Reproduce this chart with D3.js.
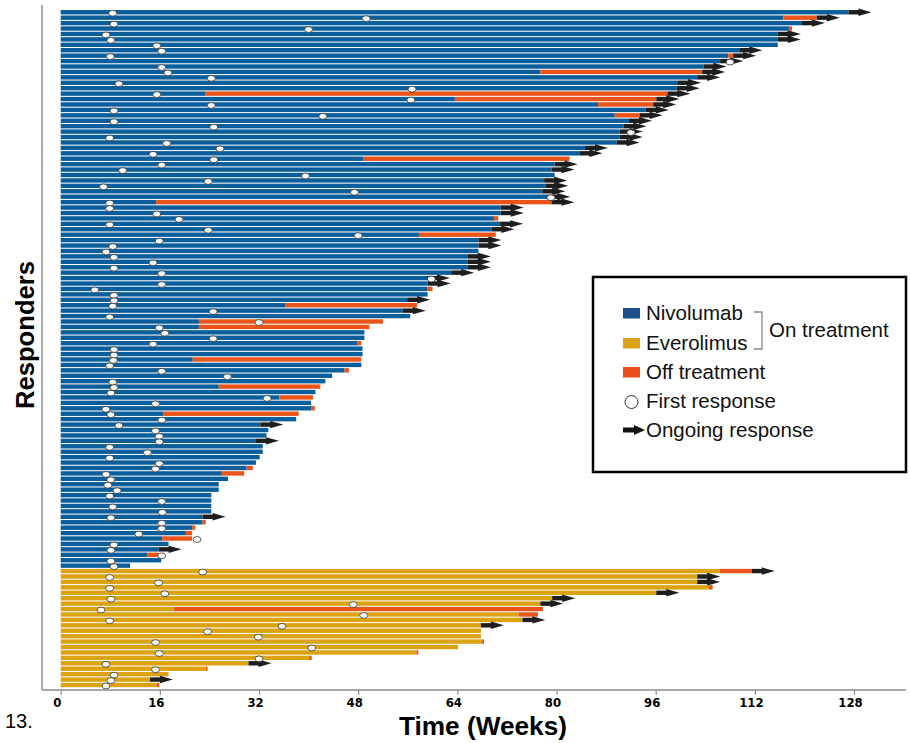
<!DOCTYPE html>
<html>
<head>
<meta charset="utf-8">
<script src="https://cdn.jsdelivr.net/npm/d3@7"></script>
<style>
  body { margin: 0; background: #fff; }
  svg { display: block; font-family: "Liberation Sans", Arial, sans-serif; }
</style>
</head>
<body>
<div id="chart"></div>
<script>
// Nivolumab responders (top to bottom), weeks
const nivoOnEnd = [127.1,116.6,119.6,117.5,115.7,115.7,115.7,109.5,107.7,106.4,
  103.7,77.4,102.7,99.6,99.4,23.3,63.6,86.7,94.4,89.4,
  91.7,90.8,90.2,90.2,89.7,84.6,83.7,48.8,79.7,79.2,
  79.7,78,78.2,77.7,78.5,15.4,71,71,69.9,70.9,
  69.5,57.8,67.4,67.4,67.4,65.7,65.7,65.7,63,59.1,
  59.2,59.2,59.2,55.9,36.3,55.2,56.4,22.3,22.3,49,
  49,47.9,48.7,48.7,21.3,48.5,45.8,43.8,42.7,25.5,
  41.1,35.3,40.4,40.4,16.6,38,32.2,33.5,33.2,31.5,
  32.6,32.6,32.1,31.5,30,26,27,25.5,25.5,24.3,
  24.3,24.3,24.3,22.9,22.9,21.2,20.2,16.4,17.4,15.8,
  14,16.2,11.2];
const nivoOffEnd = [0,122,0,118,0,0,0,0,108.5,0,
  0,103.5,0,0,0,97.9,96.1,95.6,0,93.4,
  0,0,0,0,0,0,0,82.1,0,0,
  0,0,0,0,0,79.2,0,0,70.6,0,
  0,70.2,0,0,0,0,0,0,0,0,
  0,60,0,0,57.5,0,0,52,49.8,0,
  0,48.5,0,0,48.5,0,46.5,0,0,41.9,
  0,40.7,0,41,38.4,0,0,0,0,0,
  0,0,0,0,31,29.6,0,0,0,0,
  0,0,0,0,23.4,21.7,21.2,21.2,0,0,
  15.8,0,0];
const nivoResp = [8.4,49.3,8.6,40,7.3,8.1,15.5,16.3,8.0,108,
  16.3,17.3,24.3,9.4,56.7,15.5,56.5,24.3,8.6,42.3,
  8.6,24.7,92,7.9,17.1,25.7,14.9,24.7,16.3,10,
  39.5,23.8,6.9,47.4,79.1,7.9,7.9,15.5,19.1,7.9,
  23.8,48,15.9,8.4,7.3,8.6,14.9,8.6,16.3,59.8,
  16.3,5.5,8.6,8.6,8.4,24.6,7.9,32,15.9,16.8,
  24.6,14.9,8.6,8.6,8.5,7.9,16.3,26.9,8.4,8.6,
  8.1,33.3,15.3,7.3,8.1,16.3,9.4,15.3,15.9,15.9,
  7.9,14,7.9,15.9,15.3,7.3,8.1,7.6,9.1,7.9,
  16.3,8.4,16.4,8.1,16.3,16.3,12.6,22,8.6,8.1,
  16.3,8.1,8.6];
const nivoOngoing = [1,1,1,0,1,1,0,1,1,1,
  1,1,1,1,1,1,1,1,1,1,
  1,1,1,1,1,1,1,0,1,1,
  0,1,1,1,1,1,1,1,0,1,
  1,0,1,1,0,1,1,1,1,1,
  1,0,0,1,0,1,0,0,0,0,
  0,0,0,0,0,0,0,0,0,0,
  0,0,0,0,0,0,1,0,0,1,
  0,0,0,0,0,0,0,0,0,0,
  0,0,0,1,0,0,0,0,0,1,
  0,0,0];

// Everolimus responders
const everoOnEnd = [106.3,102.7,102.7,104.6,96.1,79.3,77.4,18.3,73.9,74.5,
  67.8,67.8,67.8,68,64.1,57.4,40.1,30.3,23.4,17.4,14.4,15.5];
const everoOffEnd = [111.5,0,0,105.2,0,0,0,77.8,77,0,
  0,0,0,68.3,0,57.7,40.5,0,23.7,0,0,15.9];
const everoResp = [22.9,7.9,15.8,7.9,16.8,8.1,47.2,6.5,48.9,7.9,
  35.7,23.7,31.9,15.3,40.5,15.9,32,7.3,15.3,8.6,8.1,7.3];
const everoOngoing = [1,1,1,0,1,1,1,0,0,1,1,0,0,0,0,0,0,1,0,0,1,0];

const xTicks = [0,16,32,48,64,80,96,112,128];

const colors = { Nivolumab: "#0b5e9c", Everolimus: "#dba212", off: "#e9541b", arrow: "#1e1e1e" };
const legendColors = { Nivolumab: "#1f4e89", Everolimus: "#dca215", off: "#e8521a" };

const rows = [];
nivoOnEnd.forEach((d, i) => rows.push({ arm: "Nivolumab", on: d, off: nivoOffEnd[i], resp: nivoResp[i], ongoing: nivoOngoing[i] }));
everoOnEnd.forEach((d, i) => rows.push({ arm: "Everolimus", on: d, off: everoOffEnd[i], resp: everoResp[i], ongoing: everoOngoing[i] }));
rows.forEach((d, i) => d.idx = i);

const width = 910, height = 743;
const svg = d3.select("#chart").append("svg")
  .attr("width", width).attr("height", height);

const x = d3.scaleLinear().domain([0, 128]).range([60.7, 854]);
const y = d3.scaleLinear().domain([0, rows.length - 1]).range([12.25, 685]);
const barH = 4.4;

// axes lines
svg.append("line").attr("x1", 42).attr("x2", 42).attr("y1", 5).attr("y2", 690)
  .attr("stroke", "#8c8c8c").attr("stroke-width", 1.5);
svg.append("line").attr("x1", 42).attr("x2", 906).attr("y1", 690).attr("y2", 690)
  .attr("stroke", "#8c8c8c").attr("stroke-width", 1.5);

const xAxis = svg.append("g")
  .attr("transform", "translate(0,690)")
  .call(d3.axisBottom(x).tickValues(xTicks).tickSize(5).tickSizeOuter(0));
xAxis.select(".domain").remove();
xAxis.selectAll(".tick line").attr("stroke", "#8c8c8c").attr("stroke-width", 1.2);
xAxis.selectAll(".tick text")
  .attr("fill", "#000").attr("font-size", 13).attr("font-weight", "bold")
  .attr("dx", -4).attr("y", 8)
  .style("font-family", "'Liberation Sans Narrow', 'DejaVu Sans Condensed', sans-serif");

// on-treatment bars
const g = svg.append("g");
g.selectAll("rect.on").data(rows).join("rect")
  .attr("class", "on")
  .attr("x", x(0))
  .attr("y", d => y(d.idx) - barH / 2)
  .attr("width", d => x(d.on) - x(0))
  .attr("height", barH)
  .attr("fill", d => colors[d.arm]);

// off-treatment
g.selectAll("rect.off").data(rows.filter(d => d.off > 0)).join("rect")
  .attr("class", "off")
  .attr("x", d => x(d.on))
  .attr("y", d => y(d.idx) - barH / 2)
  .attr("width", d => x(d.off) - x(d.on))
  .attr("height", barH)
  .attr("fill", colors.off);

// ongoing response arrows
const arrows = g.selectAll("g.arrow").data(rows.filter(d => d.ongoing)).join("g")
  .attr("class", "arrow")
  .attr("transform", d => `translate(${x(Math.max(d.on, d.off))},${y(d.idx)})`);
arrows.append("rect").attr("x", 0).attr("y", -barH / 2).attr("width", 13).attr("height", barH)
  .attr("fill", colors.arrow);
arrows.append("path").attr("d", "M10,-3.7L23,0L10,3.7Z").attr("fill", colors.arrow);

// first response
g.selectAll("ellipse.resp").data(rows).join("ellipse")
  .attr("class", "resp")
  .attr("cx", d => x(d.resp))
  .attr("cy", d => y(d.idx) + 1)
  .attr("rx", 4).attr("ry", 2.9)
  .attr("fill", "#fff")
  .attr("stroke", "#333").attr("stroke-width", 0.8);

// axis titles
svg.append("text")
  .attr("x", 483).attr("y", 735)
  .attr("text-anchor", "middle")
  .attr("font-size", 26).attr("font-weight", "bold")
  .attr("textLength", 168).attr("lengthAdjust", "spacingAndGlyphs")
  .text("Time (Weeks)");

svg.append("text")
  .attr("transform", "translate(34,335) rotate(-90)")
  .attr("text-anchor", "middle")
  .attr("font-size", 26).attr("font-weight", "bold")
  .attr("textLength", 148).attr("lengthAdjust", "spacingAndGlyphs")
  .text("Responders");

svg.append("text")
  .attr("x", 5).attr("y", 728)
  .attr("font-size", 20)
  .text("13.");

// legend
const lg = svg.append("g");
lg.append("rect").attr("x", 593).attr("y", 277).attr("width", 313).attr("height", 195)
  .attr("fill", "#fff").attr("stroke", "#000").attr("stroke-width", 2.5);

const legendItems = [
  { label: "Nivolumab", type: "sq", color: legendColors.Nivolumab, cy: 313 },
  { label: "Everolimus", type: "sq", color: legendColors.Everolimus, cy: 343 },
  { label: "Off treatment", type: "sq", color: legendColors.off, cy: 372 },
  { label: "First response", type: "circle", cy: 401 },
  { label: "Ongoing response", type: "arrow", cy: 430 }
];
legendItems.forEach(it => {
  if (it.type === "sq") {
    lg.append("rect").attr("x", 623).attr("y", it.cy - 5).attr("width", 17).attr("height", 10.5)
      .attr("fill", it.color);
  } else if (it.type === "circle") {
    lg.append("circle").attr("cx", 631.5).attr("cy", it.cy + 1).attr("r", 6.5)
      .attr("fill", "#fff").attr("stroke", "#333").attr("stroke-width", 1);
  } else {
    lg.append("rect").attr("x", 623).attr("y", it.cy - 2.5).attr("width", 14).attr("height", 5).attr("fill", "#111");
    lg.append("path").attr("d", `M634,${it.cy - 5}L645,${it.cy}L634,${it.cy + 5}Z`).attr("fill", "#111");
  }
  lg.append("text").attr("x", 646).attr("y", it.cy + 7)
    .attr("font-size", 20.5).attr("fill", "#111").text(it.label);
});
// bracket for on treatment
lg.append("path")
  .attr("d", "M754,312H762V349H754")
  .attr("fill", "none").attr("stroke", "#888").attr("stroke-width", 1.3);
lg.append("text").attr("x", 769).attr("y", 337)
  .attr("font-size", 20.5).attr("fill", "#111").text("On treatment");
</script>
</body>
</html>
